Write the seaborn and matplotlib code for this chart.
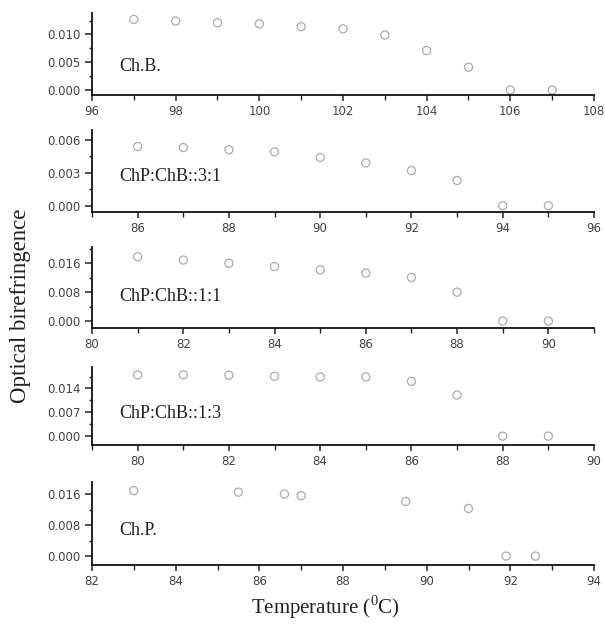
import matplotlib
matplotlib.use("Agg")
import matplotlib.pyplot as plt
import seaborn as sns
import pandas as pd
from matplotlib.ticker import MultipleLocator, FormatStrFormatter

sns.set_style("ticks")
plt.rcParams['font.family'] = ['DejaVu Sans']
plt.rcParams['mathtext.fontset'] = 'custom'
plt.rcParams['mathtext.rm'] = 'Liberation Serif'

# ---- data ----
labels = ["Ch.B.", "ChP:ChB::3:1", "ChP:ChB::1:1", "ChP:ChB::1:3", "Ch.P."]

t_chb = [97, 98, 99, 100, 101, 102, 103, 104, 105, 106, 107]
b_chb = [0.0127, 0.0124, 0.0121, 0.0119, 0.0114, 0.0110, 0.0099, 0.0071, 0.0041, 0.0, 0.0]

t_31 = [86, 87, 88, 89, 90, 91, 92, 93, 94, 95]
b_31 = [0.0054, 0.0053, 0.0051, 0.0049, 0.0044, 0.0039, 0.0032, 0.0023, 0.0, 0.0]

t_11 = [81, 82, 83, 84, 85, 86, 87, 88, 89, 90]
b_11 = [0.0178, 0.0169, 0.0160, 0.0151, 0.0142, 0.0133, 0.0121, 0.0080, 0.0, 0.0]

t_13 = [80, 81, 82, 83, 84, 85, 86, 87, 88, 89]
b_13 = [0.0180, 0.0180, 0.0179, 0.0176, 0.0174, 0.0174, 0.0161, 0.0121, 0.0, 0.0]

t_chp = [83, 85.5, 86.6, 87, 89.5, 91, 91.9, 92.6]
b_chp = [0.0169, 0.0165, 0.0160, 0.0156, 0.0141, 0.0123, 0.0, 0.0]

xlims = [(96, 108), (85, 96), (80, 91), (79, 90), (82, 94)]
ylims = [(-0.0009, 0.0138), (-0.0006, 0.0069), (-0.0020, 0.0206), (-0.0026, 0.0204), (-0.0023, 0.0192)]
ymajor = [0.005, 0.003, 0.008, 0.007, 0.008]
# ---------------

series = [(t_chb, b_chb), (t_31, b_31), (t_11, b_11), (t_13, b_13), (t_chp, b_chp)]

fig = plt.figure(figsize=(6.05, 6.27), dpi=100)
W, H = 605, 627
left, right = 92, 594
boxes = [(13.3, 95), (130, 212.3), (246.7, 328.3), (366.7, 445), (481.7, 565)]
text_y = [0.346, 0.433, 0.387, 0.405, 0.42]

for i, ((top, bot), (t, b)) in enumerate(zip(boxes, series)):
    ax = fig.add_axes([left / W, 1 - bot / H, (right - left) / W, (bot - top) / H])
    df = pd.DataFrame({"T": t, "B": b})
    sns.scatterplot(data=df, x="T", y="B", ax=ax, marker="o", s=34,
                    facecolor="none", edgecolor="#ababab", linewidth=0.9)
    ax.set_xlim(*xlims[i])
    ax.xaxis.set_major_locator(MultipleLocator(2))
    ax.xaxis.set_minor_locator(MultipleLocator(1))
    ax.yaxis.set_major_locator(MultipleLocator(ymajor[i]))
    ax.yaxis.set_minor_locator(MultipleLocator(ymajor[i] / 2))
    ax.yaxis.set_major_formatter(FormatStrFormatter("%.3f"))
    ax.set_ylim(*ylims[i])
    for s in ["top", "right"]:
        ax.spines[s].set_visible(False)
    for s in ["left", "bottom"]:
        ax.spines[s].set_linewidth(1.3)
        ax.spines[s].set_color("#111111")
    ax.tick_params(axis="y", which="major", direction="out", length=5, width=1.1,
                   labelsize=8.5, labelcolor="#444444", pad=3)
    ax.tick_params(axis="y", which="minor", direction="out", length=2.5, width=1.0)
    ax.tick_params(axis="x", which="major", direction="out", length=4, width=1.1,
                   labelsize=8.5, labelcolor="#444444", pad=3)
    ax.tick_params(axis="x", which="minor", direction="out", length=3.5, width=1.0)
    ax.set_xlabel("")
    ax.set_ylabel("")
    ax.text(0.054, text_y[i], labels[i], transform=ax.transAxes, va="center", ha="left",
            fontsize=13, family="Liberation Serif", color="#222222")

fig.text(21 / W, 1 - 306 / H, "Optical birefringence", rotation=90, va="center", ha="center",
         fontsize=16.5, family="Liberation Serif", color="#222222")
fig.text(325 / W, 1 - 607 / H, "Temperature ($^{0}$C)", va="center", ha="center",
         fontsize=15, family="Liberation Serif", color="#222222")

fig.savefig("out.png", dpi=100)
